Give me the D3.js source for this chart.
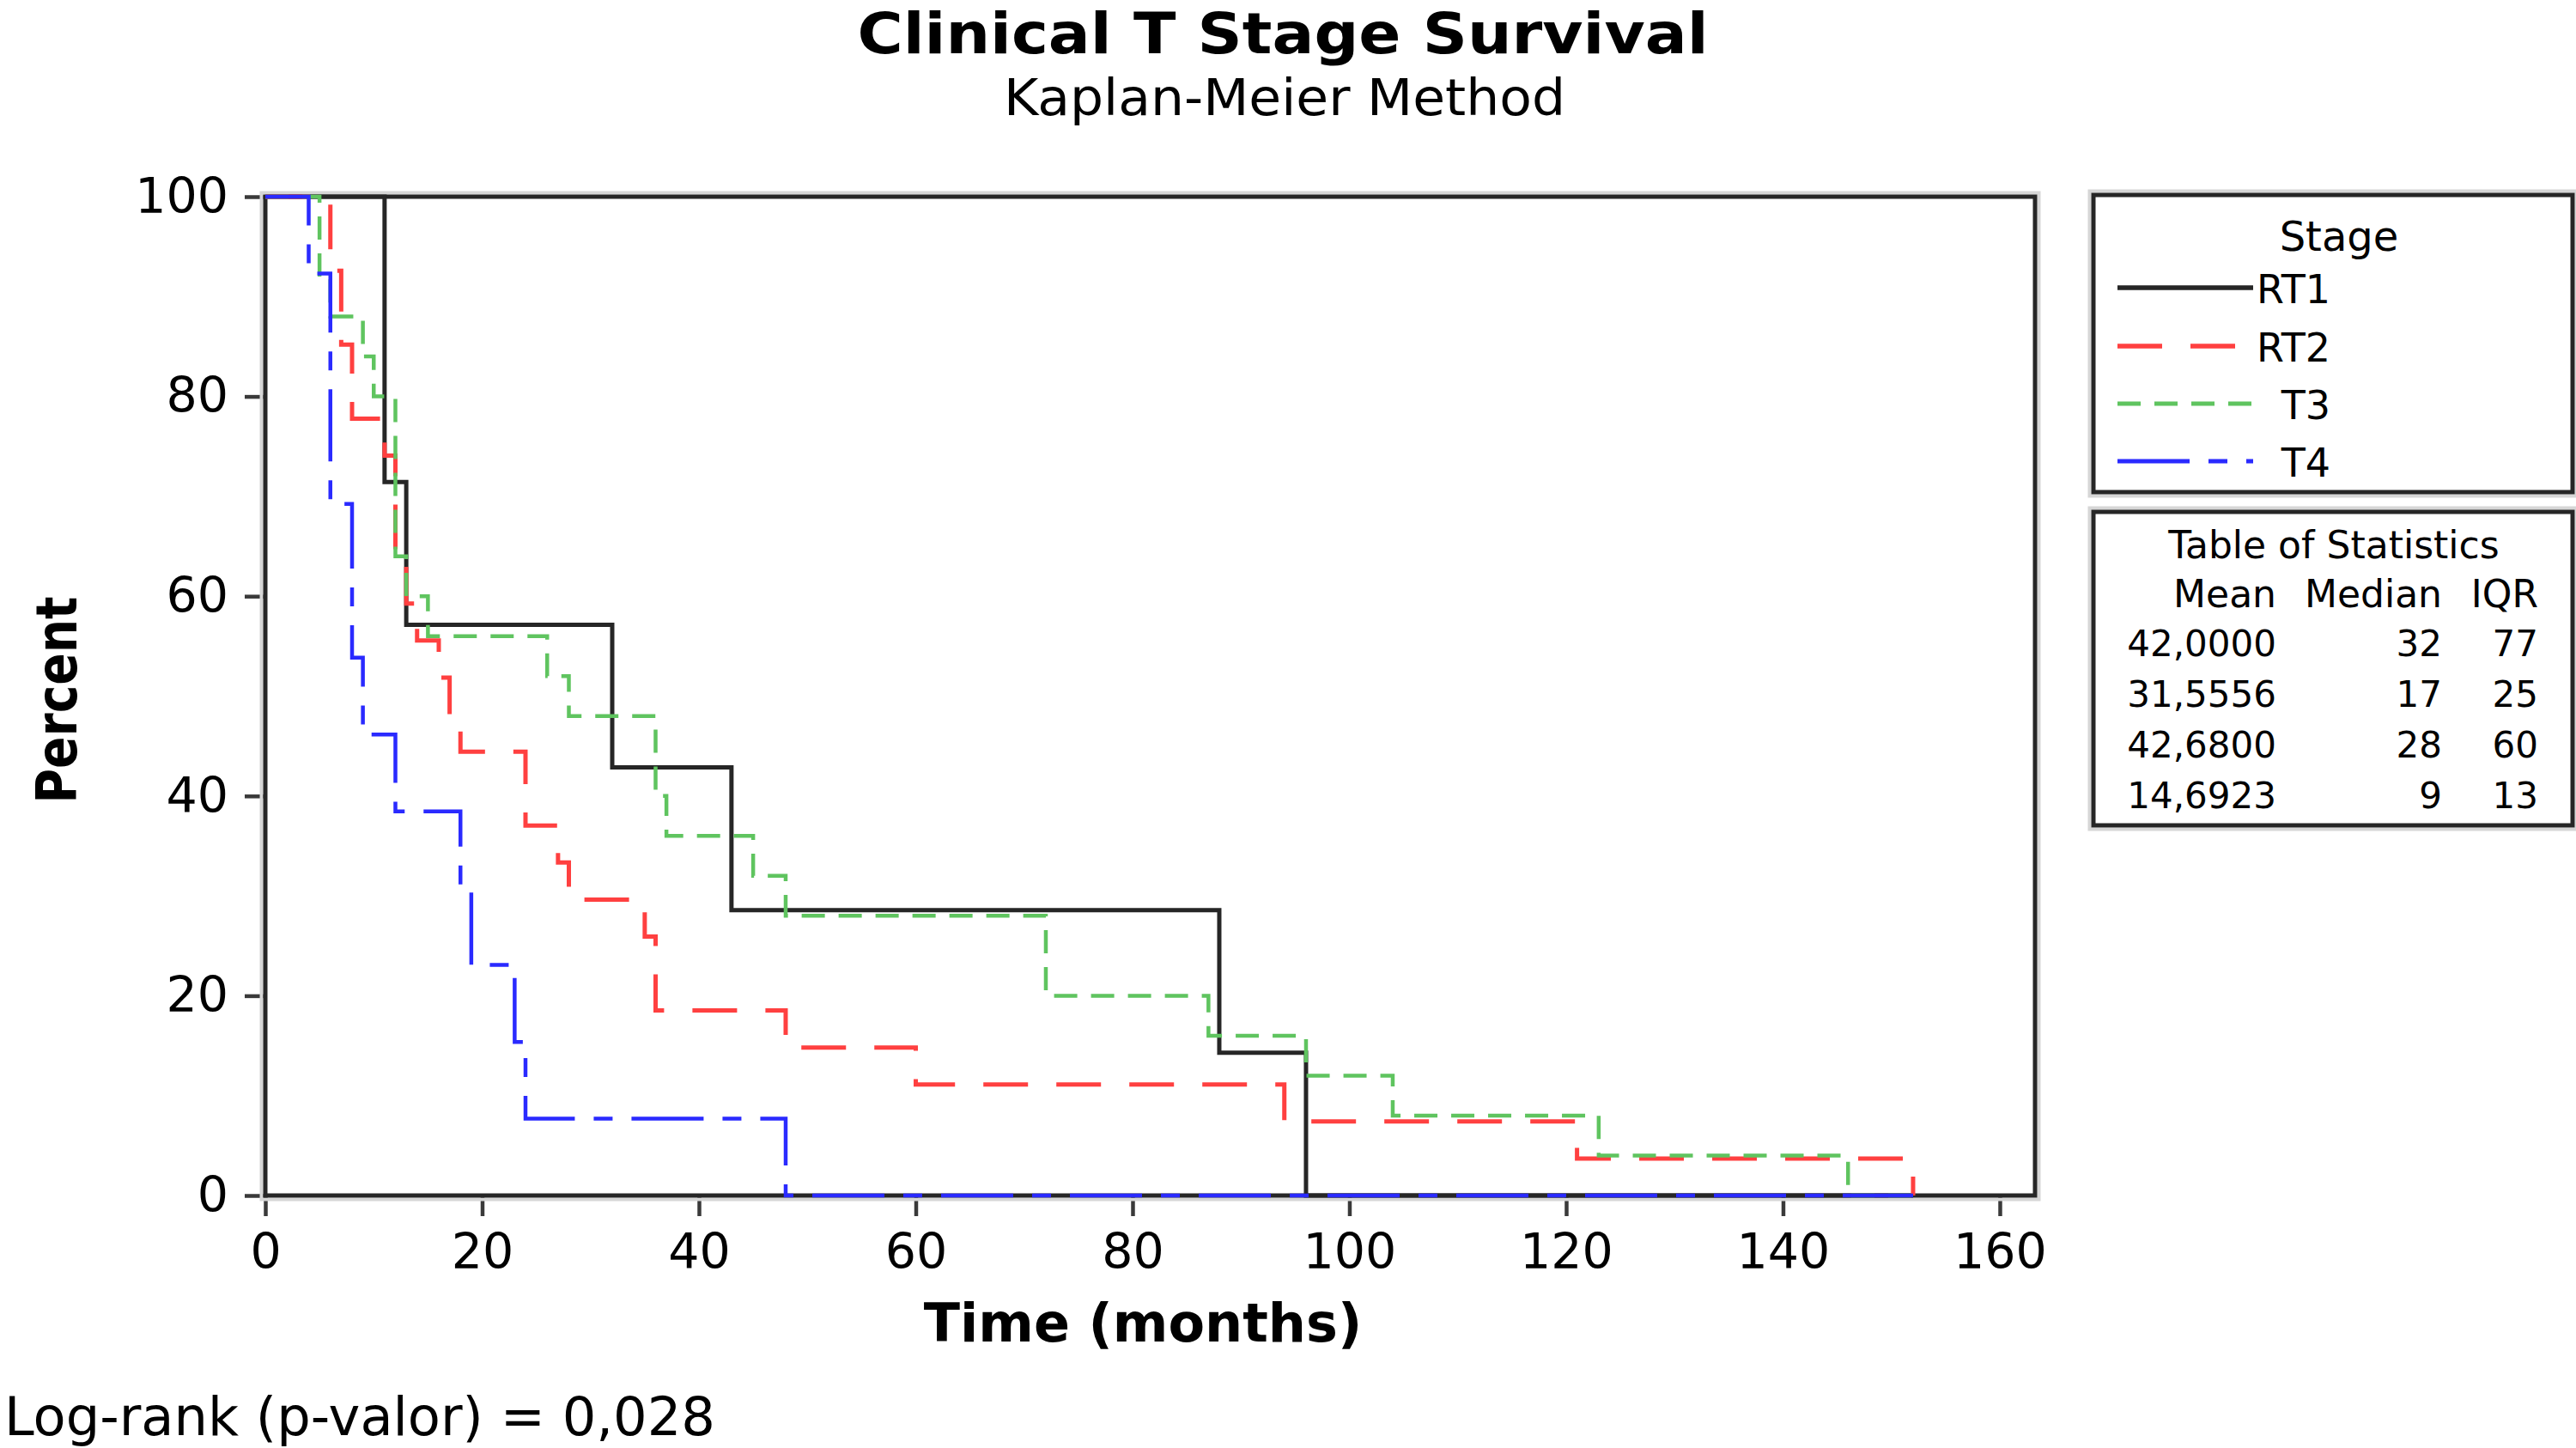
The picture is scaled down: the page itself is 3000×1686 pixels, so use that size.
<!DOCTYPE html>
<html>
<head>
<meta charset="utf-8">
<script src="https://cdn.jsdelivr.net/npm/d3@7"></script>
<style>
html,body{margin:0;padding:0;background:#fff;}
svg{display:block;}
</style>
</head>
<body>
<script>
// ---------------- DATA ----------------
const stages = ["RT1", "RT2", "T3", "T4"];

// Kaplan-Meier step points: time (months) and survival (%)
const rt1Time = [0, 11, 13, 32, 43, 88, 96];
const rt1Pct  = [100, 71.43, 57.14, 42.86, 28.57, 14.29, 0];

const rt2Time = [0, 6, 7, 8, 11, 12, 13, 14, 16, 17, 18, 24, 27, 28, 35, 36, 48, 60, 94, 121, 152];
const rt2Pct  = [100, 92.59, 85.19, 77.78, 74.07, 62.96, 59.26, 55.56, 51.85, 48.15, 44.44, 37.04, 33.33, 29.63, 25.93, 18.52, 14.81, 11.11, 7.41, 3.70, 0];

const t3Time = [0, 5, 6, 9, 10, 12, 13, 15, 26, 28, 36, 37, 45, 48, 72, 87, 96, 104, 123, 146];
const t3Pct  = [100, 92, 88, 84, 80, 64, 60, 56, 52, 48, 40, 36, 32, 28, 20, 16, 12, 8, 4, 0];

const t4Time = [0, 4, 6, 8, 9, 12, 18, 19, 23, 24, 48];
const t4Pct  = [100, 92.31, 69.23, 53.85, 46.15, 38.46, 30.77, 23.08, 15.38, 7.69, 0];

const lastFollowUp = 152;   // curves run along their last value to here

const xTicks = [0, 20, 40, 60, 80, 100, 120, 140, 160];
const yTicks = [0, 20, 40, 60, 80, 100];

// Table of statistics
const statMean   = ["42,0000", "31,5556", "42,6800", "14,6923"];
const statMedian = ["32", "17", "28", "9"];
const statIQR    = ["77", "25", "60", "13"];

const titleText    = "Clinical T Stage Survival";
const subtitleText = "Kaplan-Meier Method";
const xTitle       = "Time (months)";
const yTitle       = "Percent";
const footText     = "Log-rank (p-valor) = 0,028";

// ---------------- STYLES ----------------
const FONT = "'DejaVu Sans', Verdana, sans-serif";
const styles = {
  RT1: {color: "#262626", width: 5,   dash: null},
  RT2: {color: "#ff4040", width: 5,   dash: "52,33"},
  T3:  {color: "#5fc45f", width: 4.5, dash: "27,16"},
  T4:  {color: "#2a2aff", width: 4.5, dash: "84,22,22,22"}
};

const seriesData = {
  RT1: rt1Time.map((t, i) => [t, rt1Pct[i]]),
  RT2: rt2Time.map((t, i) => [t, rt2Pct[i]]),
  T3:  t3Time.map((t, i) => [t, t3Pct[i]]),
  T4:  t4Time.map((t, i) => [t, t4Pct[i]])
};

// ---------------- LAYOUT ----------------
const W = 3000, H = 1686;
const P = {left: 309, top: 229, right: 2370, bottom: 1392};

const x = d3.scaleLinear().domain([0, 163.25]).range([P.left, P.right]);
const y = d3.scaleLinear().domain([0, 100]).range([P.bottom, P.top]);

const svg = d3.select("body").append("svg")
  .attr("width", W).attr("height", H)
  .attr("viewBox", `0 0 ${W} ${H}`)
  .style("font-family", FONT);

svg.append("rect").attr("width", W).attr("height", H).attr("fill", "#fff");

function frame(x0, y0, w, h) {
  svg.append("rect")
    .attr("x", x0 - 4.5).attr("y", y0 - 4.5)
    .attr("width", w + 9).attr("height", h + 9)
    .attr("fill", "none").attr("stroke", "#d6d6d6").attr("stroke-width", 4);
  svg.append("rect")
    .attr("x", x0).attr("y", y0).attr("width", w).attr("height", h)
    .attr("fill", "none").attr("stroke", "#262626").attr("stroke-width", 5);
}

// Titles
svg.append("text").attr("x", 1494).attr("y", 62)
  .attr("text-anchor", "middle").attr("font-weight", "bold")
  .attr("font-size", 66).attr("fill", "#000")
  .attr("textLength", 991).attr("lengthAdjust", "spacingAndGlyphs")
  .text(titleText);
svg.append("text").attr("x", 1496).attr("y", 134)
  .attr("text-anchor", "middle")
  .attr("font-size", 58).attr("fill", "#000")
  .attr("textLength", 654).attr("lengthAdjust", "spacingAndGlyphs")
  .text(subtitleText);

// Axes (ticks + labels)
const gx = svg.append("g")
  .attr("transform", `translate(0,${P.bottom})`)
  .call(d3.axisBottom(x).tickValues(xTicks).tickSize(24).tickPadding(21).tickFormat(d3.format("d")));
gx.attr("font-family", FONT).attr("font-size", 57);
gx.select(".domain").remove();
gx.selectAll(".tick line").attr("stroke", "#3a3a3a").attr("stroke-width", 4.5);
gx.selectAll(".tick text").attr("fill", "#000");

const gy = svg.append("g")
  .attr("transform", `translate(${P.left},0)`)
  .call(d3.axisLeft(y).tickValues(yTicks).tickSize(24).tickPadding(19).tickFormat(d3.format("d")));
gy.attr("font-family", FONT).attr("font-size", 57);
gy.select(".domain").remove();
gy.selectAll(".tick line").attr("stroke", "#3a3a3a").attr("stroke-width", 4.5);
gy.selectAll(".tick text").attr("fill", "#000");

// Plot frame
frame(P.left, P.top, P.right - P.left, P.bottom - P.top);

// Axis titles
svg.append("text").attr("x", 1331).attr("y", 1562)
  .attr("text-anchor", "middle").attr("font-weight", "bold")
  .attr("font-size", 62).attr("fill", "#000").text(xTitle);
svg.append("text")
  .attr("transform", "translate(89,815) rotate(-90)")
  .attr("text-anchor", "middle").attr("font-weight", "bold")
  .attr("font-size", 66).attr("fill", "#000")
  .attr("textLength", 241).attr("lengthAdjust", "spacingAndGlyphs")
  .text(yTitle);

// Survival curves
const line = d3.line()
  .x(d => x(d[0]))
  .y(d => y(d[1]))
  .curve(d3.curveStepAfter);

stages.forEach(s => {
  const pts = seriesData[s].slice();
  const last = pts[pts.length - 1];
  if (last[0] < lastFollowUp) pts.push([lastFollowUp, last[1]]);
  const st = styles[s];
  svg.append("path")
    .datum(pts)
    .attr("d", line)
    .attr("fill", "none")
    .attr("stroke", st.color)
    .attr("stroke-width", st.width)
    .attr("stroke-dasharray", st.dash)
    .attr("stroke-linejoin", "miter")
    .attr("stroke-linecap", "butt");
});

// Footnote
svg.append("text").attr("x", 5).attr("y", 1671)
  .attr("font-size", 62).attr("fill", "#000")
  .attr("textLength", 828).attr("lengthAdjust", "spacingAndGlyphs")
  .text(footText);

// Legend box: Stage
frame(2438, 227, 558, 346);
svg.append("text").attr("x", 2724).attr("y", 292)
  .attr("text-anchor", "middle").attr("font-size", 48).attr("fill", "#000").text("Stage");
const legY = [335, 403, 470, 537];
stages.forEach((s, i) => {
  const st = styles[s];
  svg.append("line")
    .attr("x1", 2466).attr("x2", 2624)
    .attr("y1", legY[i]).attr("y2", legY[i])
    .attr("stroke", st.color).attr("stroke-width", st.width + 0.5)
    .attr("stroke-dasharray", st.dash);
  svg.append("text").attr("x", 2714).attr("y", legY[i] + 18)
    .attr("text-anchor", "end").attr("font-size", 46).attr("fill", "#000").text(s);
});

// Table of statistics
frame(2438, 596, 558, 365);
svg.append("text").attr("x", 2718).attr("y", 650)
  .attr("text-anchor", "middle").attr("font-size", 44).attr("fill", "#000")
  .text("Table of Statistics");
const colEnd = [2651, 2844, 2956];
["Mean", "Median", "IQR"].forEach((h, j) => {
  svg.append("text").attr("x", colEnd[j]).attr("y", 707)
    .attr("text-anchor", "end").attr("font-size", 44).attr("fill", "#000").text(h);
});
stages.forEach((s, i) => {
  const yy = 764 + i * 59;
  [statMean[i], statMedian[i], statIQR[i]].forEach((v, j) => {
    svg.append("text").attr("x", colEnd[j]).attr("y", yy)
      .attr("text-anchor", "end").attr("font-size", 42).attr("fill", "#000").text(v);
  });
});
</script>
</body>
</html>
